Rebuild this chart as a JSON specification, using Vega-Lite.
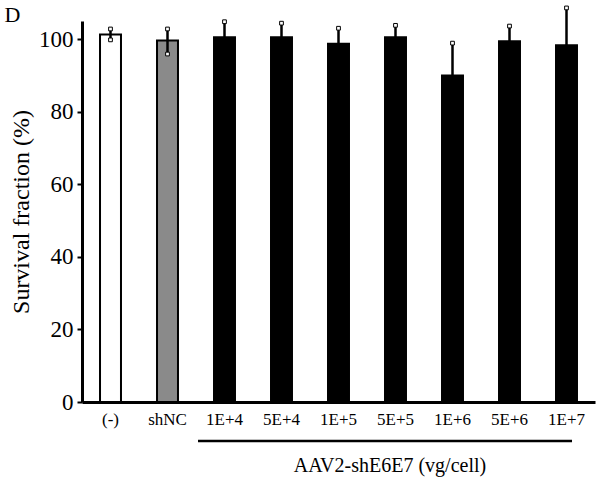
{
  "$schema": "https://vega.github.io/schema/vega-lite/v6.json",
  "width": 513,
  "height": 381,
  "autosize": {"type": "none"},
  "padding": {"left": 82, "top": 21, "right": 7, "bottom": 80},
  "background": "white",
  "config": {
    "view": {"stroke": null},
    "font": "Liberation Serif",
    "axis": {
      "labelFont": "Liberation Serif", "titleFont": "Liberation Serif",
      "labelColor": "black", "titleColor": "black", "titleFontWeight": "normal",
      "domainColor": "black", "domainWidth": 3, "grid": false, "tickColor": "black"
    },
    "axisY": {
      "labelFontSize": 23, "titleFontSize": 24, "tickWidth": 2, "tickSize": 5,
      "labelPadding": 4, "titlePadding": 5
    },
    "axisX": {
      "labelFontSize": 17, "ticks": false, "labelPadding": 9, "labelAngle": 0
    }
  },
  "data": {
    "values": [
      {"cond": "(-)", "type": "control", "mean": 101.3, "lo": 99.8, "hi": 102.8},
      {"cond": "shNC", "type": "shNC", "mean": 99.6, "lo": 95.9, "hi": 102.8},
      {"cond": "1E+4", "type": "AAV", "mean": 100.5, "lo": 100.5, "hi": 104.8},
      {"cond": "5E+4", "type": "AAV", "mean": 100.5, "lo": 100.5, "hi": 104.4},
      {"cond": "1E+5", "type": "AAV", "mean": 98.7, "lo": 98.7, "hi": 103.0},
      {"cond": "5E+5", "type": "AAV", "mean": 100.5, "lo": 100.5, "hi": 103.8},
      {"cond": "1E+6", "type": "AAV", "mean": 90.0, "lo": 90.0, "hi": 98.9},
      {"cond": "5E+6", "type": "AAV", "mean": 99.4, "lo": 99.4, "hi": 103.6},
      {"cond": "1E+7", "type": "AAV", "mean": 98.3, "lo": 98.3, "hi": 108.6}
    ]
  },
  "encoding": {
    "x": {
      "field": "cond", "type": "nominal", "sort": null,
      "scale": {"paddingInner": 0.632, "paddingOuter": 0.316},
      "axis": {"title": null}
    }
  },
  "layer": [
    {
      "mark": {"type": "bar", "stroke": "black", "strokeWidth": 2},
      "encoding": {
        "y": {
          "field": "mean", "type": "quantitative",
          "scale": {"domain": [0, 105], "nice": false},
          "axis": {"title": "Survival fraction (%)", "values": [0, 20, 40, 60, 80, 100]}
        },
        "color": {
          "field": "type", "type": "nominal",
          "scale": {"domain": ["control", "shNC", "AAV"], "range": ["white", "#8a8a8a", "black"]},
          "legend": null
        }
      }
    },
    {
      "mark": {"type": "rule", "color": "black", "strokeWidth": 2.5},
      "encoding": {
        "y": {"field": "lo", "type": "quantitative"},
        "y2": {"field": "hi"}
      }
    },
    {
      "mark": {"type": "point", "shape": "square", "size": 14, "filled": false, "fill": "white", "stroke": "black", "strokeWidth": 1, "opacity": 1},
      "encoding": {
        "y": {"field": "hi", "type": "quantitative"}
      }
    },
    {
      "transform": [{"filter": "datum.lo < datum.mean"}],
      "mark": {"type": "point", "shape": "square", "size": 14, "filled": false, "fill": "white", "stroke": "black", "strokeWidth": 1, "opacity": 1},
      "encoding": {
        "y": {"field": "lo", "type": "quantitative"}
      }
    },
    {
      "data": {"values": [{"start": "1E+4", "end": "1E+7"}]},
      "mark": {"type": "rule", "color": "black", "strokeWidth": 2.5, "xOffset": -16, "x2Offset": 16},
      "encoding": {
        "x": {"field": "start", "type": "nominal", "bandPosition": 0},
        "x2": {"field": "end", "bandPosition": 0},
        "y": {"datum": -10.75}
      }
    },
    {
      "data": {"values": [{"mid": "5E+5", "label": "AAV2-shE6E7 (vg/cell)"}]},
      "mark": {"type": "text", "font": "Liberation Serif", "fontSize": 20, "color": "black", "baseline": "alphabetic", "align": "center", "dx": -5.5},
      "encoding": {
        "x": {"field": "mid", "type": "nominal"},
        "y": {"datum": -19.3},
        "text": {"field": "label"}
      }
    },
    {
      "data": {"values": [{"mid": "(-)", "label": "D"}]},
      "mark": {"type": "text", "font": "Liberation Serif", "fontSize": 22, "color": "black", "baseline": "alphabetic", "align": "left", "dx": -106},
      "encoding": {
        "x": {"field": "mid", "type": "nominal"},
        "y": {"datum": 104.7},
        "text": {"field": "label"}
      }
    }
  ]
}
